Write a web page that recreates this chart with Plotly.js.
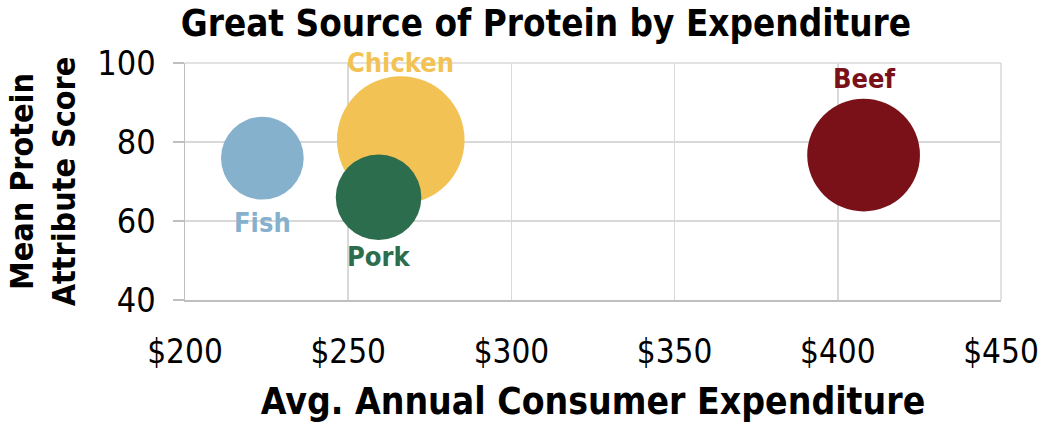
<!DOCTYPE html>
<html>
<head>
<meta charset="utf-8">
<script src="https://cdn.plot.ly/plotly-3.0.1.min.js"></script>
<style>
  html, body { margin: 0; padding: 0; background: #ffffff; }
  #chart { width: 1060px; height: 426px; }
</style>
</head>
<body>
<div id="chart"></div>
<script>
// Data
var categories = ["Fish", "Chicken", "Pork", "Beef"];
var expenditure = [223.7, 266.1, 259.3, 407.9];   // Avg. annual consumer expenditure ($)
var proteinScore = [75.9, 80.5, 66.0, 76.7];       // Mean protein attribute score
var bubbleSize = [42, 100, 45, 78];                 // relative bubble size (area)
var colors = ["#86B1CD", "#F2C354", "#2C6D4D", "#7A1119"];
var labelShift = [-64, 78, -59, 77];                // label offset above/below bubble centre (px)

var xTickVals = [200, 250, 300, 350, 400, 450];
var xTickText = ["$200", "$250", "$300", "$350", "$400", "$450"];
var yTickVals = [40, 60, 80, 100];

var FONT = "Tahoma, 'DejaVu Sans Condensed', 'DejaVu Sans', sans-serif";

var trace = {
  type: "scatter",
  mode: "markers",
  x: expenditure,
  y: proteinScore,
  marker: {
    size: bubbleSize,
    sizemode: "area",
    sizeref: 0.01228,
    color: colors,
    opacity: 1,
    line: { width: 0 }
  },
  hoverinfo: "skip",
  cliponaxis: false
};

var annotations = categories.map(function (name, i) {
  return {
    x: expenditure[i], y: proteinScore[i], xref: "x", yref: "y",
    text: "<b>" + name + "</b>", showarrow: false,
    xanchor: "center", yanchor: "middle", yshift: labelShift[i],
    font: { family: FONT, size: 27, color: colors[i] }
  };
});

var layout = {
  width: 1060,
  height: 426,
  margin: { l: 185, r: 59, t: 63, b: 126 },
  paper_bgcolor: "#ffffff",
  plot_bgcolor: "#ffffff",
  showlegend: false,
  font: { family: FONT, color: "#000000" },
  title: {
    text: "<b>Great Source of Protein by Expenditure</b>",
    font: { family: FONT, size: 36.5, color: "#000000" },
    x: 0.515, xanchor: "center", xref: "container",
    y: 0.945, yanchor: "middle", yref: "container"
  },
  annotations: annotations,
  xaxis: {
    range: [200, 450],
    tickvals: xTickVals,
    ticktext: xTickText,
    tickfont: { family: FONT, size: 33, color: "#000000" },
    showgrid: true,
    gridcolor: "#D9D9D9",
    gridwidth: 1.5,
    showline: true,
    linecolor: "#BFBFBF",
    linewidth: 1.5,
    ticks: "",
    ticklabelstandoff: 22,
    zeroline: false,
    fixedrange: true,
    title: {
      text: "<b>Avg. Annual Consumer Expenditure</b>",
      font: { family: FONT, size: 37, color: "#000000" },
      standoff: 18
    }
  },
  yaxis: {
    range: [40, 100],
    tickvals: yTickVals,
    tickfont: { family: FONT, size: 34, color: "#000000" },
    showgrid: true,
    gridcolor: "#D9D9D9",
    gridwidth: 1.5,
    showline: true,
    linecolor: "#BFBFBF",
    linewidth: 1.5,
    ticks: "outside",
    ticklen: 11,
    tickcolor: "#BFBFBF",
    tickwidth: 1.5,
    ticklabelstandoff: 10,
    zeroline: false,
    fixedrange: true,
    title: {
      text: "<b>Mean Protein<br>Attribute Score</b>",
      font: { family: FONT, size: 32, color: "#000000" },
      standoff: 12
    }
  },
  shapes: [
    { type: "line", xref: "paper", yref: "paper", x0: 1, x1: 1, y0: 0, y1: 1,
      line: { color: "#D9D9D9", width: 1.5 } },
    { type: "line", xref: "paper", yref: "paper", x0: 0, x1: 1, y0: 1, y1: 1,
      line: { color: "#D9D9D9", width: 1.5 } }
  ]
};

Plotly.newPlot("chart", [trace], layout, { displayModeBar: false, staticPlot: true });
</script>
</body>
</html>
